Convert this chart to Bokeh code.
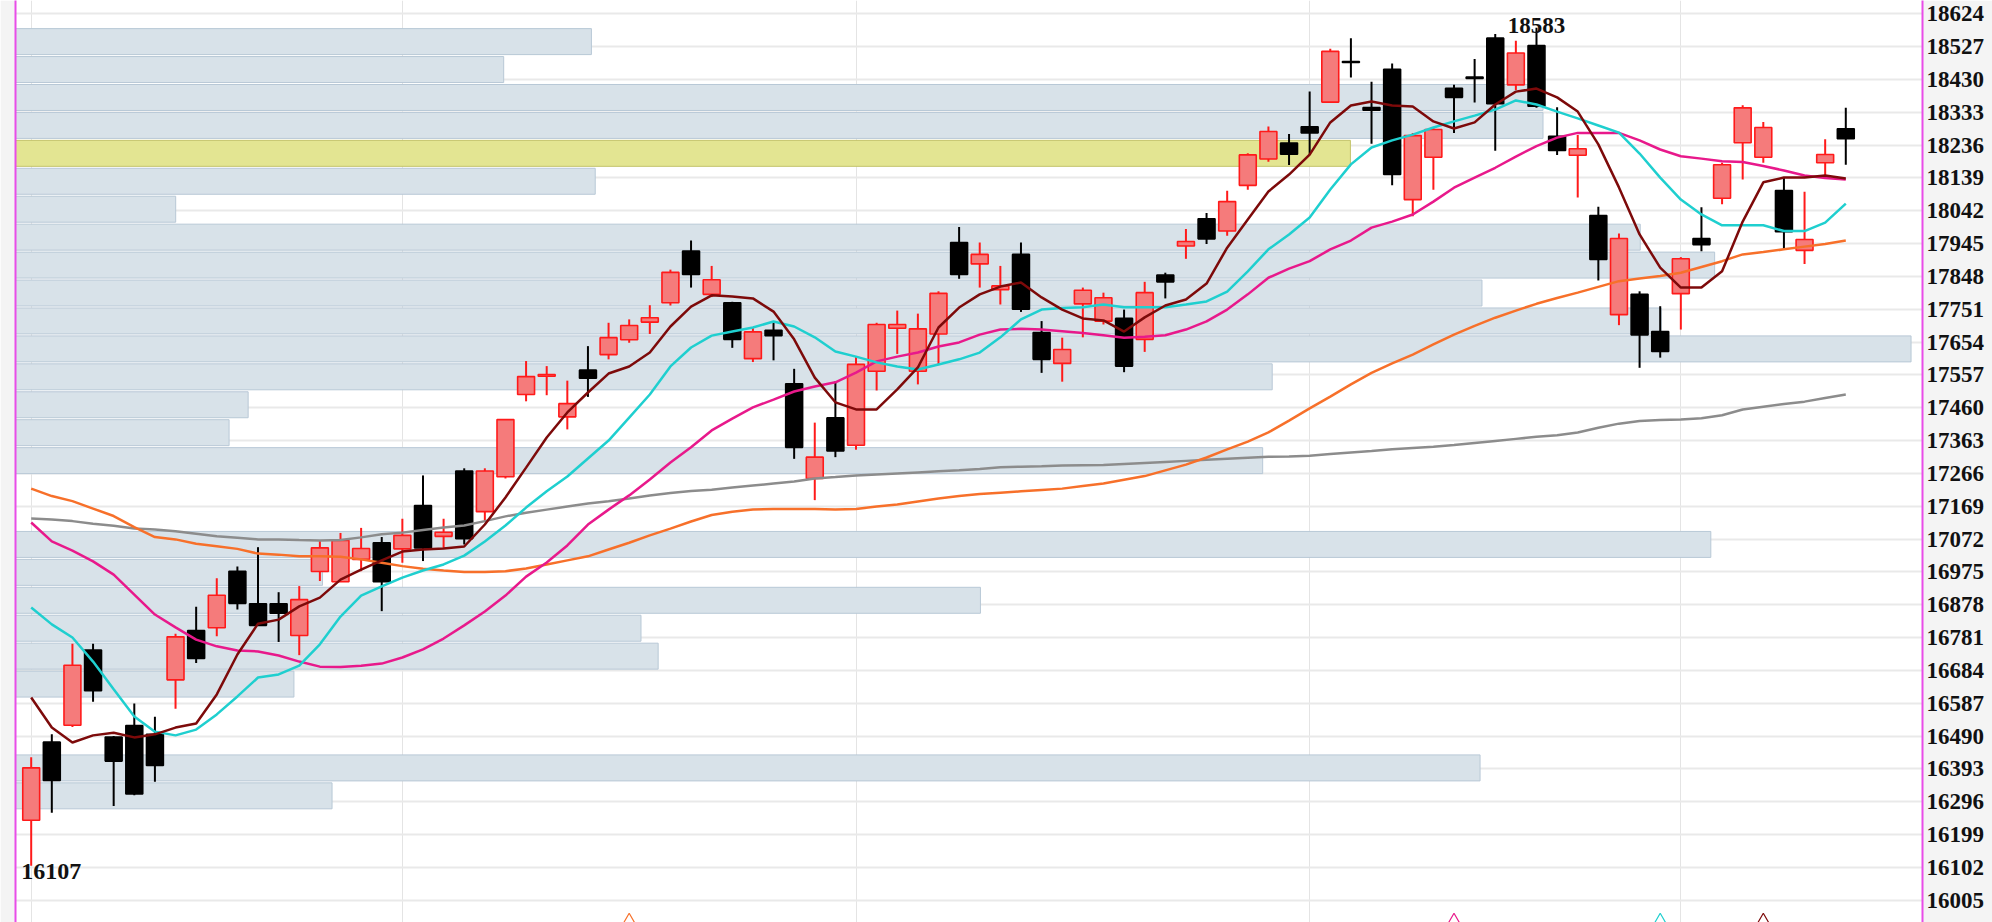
from bokeh.plotting import figure
from bokeh.models import Range1d, LinearAxis, FixedTicker, ColumnDataSource
from bokeh.embed import file_html
from bokeh.resources import INLINE
from bokeh.core.properties import value

# ---------------- data ----------------
opens = [16241,16472,16522,16744,16487,16521,16495,16656,16802,16810,
         16977,16881,16881,16787,16976,16946,17012,17061,17043,17171,
         17080,17273,17153,17256,17499,17553,17433,17571,17617,17661,
         17713,17770,17923,17795,17770,17605,17689,17531,17251,17430,
         17349,17568,17695,17568,17678,17948,17885,17809,17913,17682,
         17591,17767,17716,17724,17662,17852,17938,18018,17982,18117,
         18195,18242,18290,18363,18483,18347,18460,18075,18200,18404,
         18437,18552,18414,18530,18262,18206,18028,17735,17795,17685,
         17797,17960,18079,18243,18200,18102,17925,18184,18284]
highs = [16427,16495,16763,16763,16490,16586,16547,16792,16872,16956,
         16991,17048,16915,16933,17066,17090,17105,17078,17132,17260,
         17132,17281,17281,17425,17598,17583,17540,17642,17711,17721,
         17763,17868,17954,17879,17773,17696,17716,17575,17416,17538,
         17610,17711,17747,17738,17804,17994,17948,17879,17948,17716,
         17667,17815,17800,17750,17832,17859,17988,18035,18101,18212,
         18291,18269,18394,18521,18552,18423,18477,18272,18289,18414,
         18490,18564,18544,18583,18348,18266,18054,17975,17804,17760,
         17905,18052,18184,18354,18304,18139,18098,18253,18346]
lows = [16107,16263,16517,16591,16283,16315,16355,16571,16706,16785,
        16864,16817,16768,16729,16948,16946,16977,16859,17002,17007,
        17046,17056,17125,17251,17479,17497,17396,17492,17603,17652,
        17678,17762,17815,17787,17637,17595,17600,17309,17187,17314,
        17336,17511,17619,17529,17586,17841,17815,17765,17743,17563,
        17537,17668,17706,17565,17625,17783,17900,17944,17968,18104,
        18187,18177,18207,18360,18436,18240,18117,18026,18104,18272,
        18362,18219,18399,18346,18207,18081,17836,17704,17578,17608,
        17691,17922,18061,18134,18184,17930,17885,18139,18178]
closes = [16396,16359,16699,16624,16416,16319,16403,16783,16719,16906,
          16882,16817,16853,16893,17046,17068,17044,16946,17083,17046,
          17092,17073,17273,17425,17552,17558,17472,17547,17667,17703,
          17726,17860,17854,17838,17662,17684,17673,17343,17314,17332,
          17588,17706,17706,17693,17798,17854,17913,17820,17751,17603,
          17632,17807,17785,17583,17800,17832,17951,17959,18069,18207,
          18276,18209,18272,18513,18480,18339,18149,18264,18282,18377,
          18433,18358,18508,18351,18220,18225,17898,17960,17675,17626,
          17900,17942,18178,18346,18288,17980,17957,18208,18255]

ma5 = [16604,16515,16471,16492,16500,16486,16495,16515,16527,16613,
       16731,16822,16834,16873,16899,16952,16982,17009,17035,17041,
       17044,17050,17115,17195,17283,17372,17446,17505,17561,17582,
       17623,17700,17759,17792,17789,17783,17744,17662,17549,17476,
       17455,17455,17514,17579,17697,17756,17795,17818,17830,17786,
       17750,17724,17718,17685,17727,17762,17780,17827,17933,18016,
       18099,18149,18208,18303,18353,18365,18353,18350,18306,18285,
       18303,18356,18394,18403,18377,18335,18238,18111,17972,17874,
       17815,17815,17863,18010,18126,18140,18140,18146,18137]
ma10 = [16870,16820,16781,16710,16628,16548,16503,16492,16509,16554,
        16607,16663,16672,16698,16761,16843,16905,16932,16958,16979,
        16997,17023,17065,17112,17165,17213,17257,17310,17363,17431,
        17499,17582,17638,17673,17685,17697,17715,17700,17668,17626,
        17611,17594,17582,17573,17588,17603,17623,17668,17721,17750,
        17755,17757,17765,17757,17757,17757,17765,17774,17803,17863,
        17928,17972,18022,18105,18179,18229,18250,18267,18288,18306,
        18323,18341,18368,18356,18335,18315,18294,18273,18211,18140,
        18075,18031,17999,17999,17999,17982,17982,18007,18063]
ma20 = [17121,17065,17038,17006,16967,16908,16849,16811,16775,16755,
        16743,16740,16728,16710,16695,16694,16698,16704,16722,16746,
        16778,16817,16858,16905,16961,17003,17053,17115,17159,17201,
        17248,17298,17343,17393,17428,17461,17484,17508,17523,17535,
        17564,17597,17611,17623,17641,17653,17676,17691,17693,17691,
        17686,17681,17674,17667,17670,17674,17691,17715,17750,17795,
        17844,17871,17893,17928,17954,17992,18010,18031,18069,18110,
        18140,18169,18202,18233,18258,18272,18272,18272,18250,18223,
        18203,18196,18188,18186,18174,18161,18146,18139,18134]
ma60 = [17221,17199,17184,17162,17140,17107,17078,17071,17058,17051,
        17043,17029,17026,17021,17021,17020,17012,17002,16992,16984,
        16979,16975,16975,16977,16985,16997,17009,17021,17041,17061,
        17083,17103,17124,17143,17153,17159,17161,17161,17161,17159,
        17161,17168,17174,17183,17192,17199,17205,17209,17213,17217,
        17221,17229,17236,17247,17258,17275,17292,17313,17337,17360,
        17387,17422,17458,17493,17529,17563,17591,17617,17647,17676,
        17702,17726,17747,17767,17784,17800,17817,17834,17842,17849,
        17859,17876,17893,17913,17920,17928,17936,17944,17954]
ma120 = [17133,17130,17125,17117,17111,17103,17100,17095,17088,17080,
         17076,17071,17071,17069,17068,17069,17077,17086,17091,17099,
         17106,17112,17125,17139,17150,17159,17168,17177,17184,17192,
         17201,17208,17214,17218,17224,17230,17236,17242,17251,17255,
         17260,17263,17266,17269,17272,17275,17279,17284,17286,17287,
         17289,17290,17291,17294,17297,17300,17303,17306,17309,17312,
         17315,17316,17318,17323,17328,17332,17337,17341,17345,17350,
         17356,17362,17368,17374,17379,17387,17401,17413,17421,17424,
         17425,17429,17438,17455,17463,17471,17478,17489,17499]

# volume profile: 30 price bins from the highest high down to the lowest low
profile_volume = [30.2, 25.6, 80.1, 80.1, 70.0, 30.4, 8.4, 85.2, 89.1, 76.9,
                  86.3, 99.4, 65.9, 12.2, 11.2, 65.4, 0, 0, 88.9, 16.1,
                  50.6, 32.8, 33.7, 14.6, 0, 0, 76.8, 16.6, 0, 0]
highlight_bin = 4

y_ticks = [16005, 16102, 16199, 16296, 16393, 16490, 16587, 16684, 16781,
           16878, 16975, 17072, 17169, 17266, 17363, 17460, 17557, 17654,
           17751, 17848, 17945, 18042, 18139, 18236, 18333, 18430, 18527, 18624]
month_starts = [0, 18, 40, 62, 80]

signal_idx = [29, 69, 79, 84]
signal_colors = ["#f7702a", "#e8198b", "#1fcfcf", "#7d0a0a"]

# ---------------- figure ----------------
n = len(closes)
idx = list(range(n))
y_lo, y_hi = 15939.1, 18663.2
FONT = "Liberation Serif"

p = figure(width=1992, height=922,
           x_range=Range1d(-0.761, 91.72), y_range=Range1d(y_lo, y_hi),
           x_axis_location=None, y_axis_location="right",
           output_backend="svg", toolbar_location=None,
           min_border_left=15, min_border_right=70,
           min_border_top=0, min_border_bottom=0,
           background_fill_color="white", border_fill_color="#f4f4f4",
           outline_line_color=None)
p.extra_x_ranges = {"vol": Range1d(0, 100)}

# grid
p.ygrid.ticker = FixedTicker(ticks=y_ticks)
p.ygrid.grid_line_color = "#e9e9e9"
p.ygrid.grid_line_width = 2
p.xgrid.ticker = FixedTicker(ticks=month_starts)
p.xgrid.grid_line_color = "#e4e4e4"
p.xgrid.grid_line_width = 1

# right axis
ax = p.yaxis[0]
ax.ticker = FixedTicker(ticks=y_ticks)
ax.axis_line_color = "#e84de8"
ax.axis_line_width = 2
ax.major_tick_line_color = None
ax.minor_tick_line_color = None
ax.major_tick_out = 0
ax.major_tick_in = 0
ax.major_label_standoff = 4
ax.major_label_text_font = FONT
ax.major_label_text_font_style = "bold"
ax.major_label_text_font_size = "23px"
ax.major_label_text_color = "#111111"

left_axis = LinearAxis(ticker=FixedTicker(ticks=[]), axis_line_color="#e84de8",
                       axis_line_width=2, major_tick_line_color=None,
                       minor_tick_line_color=None, major_tick_out=0,
                       major_tick_in=0, major_label_standoff=0,
                       major_label_text_font_size="0px")
p.add_layout(left_axis, "left")

# volume profile
top = max(highs)
bot = min(lows)
nb = len(profile_volume)
bsz = (top - bot) / nb
centers = [top - (k + 0.5) * bsz for k in range(nb)]
norm_k = [k for k in range(nb) if profile_volume[k] > 0 and k != highlight_bin]
p.hbar(y=[centers[k] for k in norm_k], left=0,
       right=[profile_volume[k] for k in norm_k], height=bsz * 0.93,
       x_range_name="vol", fill_color="#d8e2e9", line_color="#b8c8d6",
       line_width=1)
p.hbar(y=[centers[highlight_bin]], left=0, right=[profile_volume[highlight_bin]],
       height=bsz * 0.93, x_range_name="vol", fill_color="#e3e592",
       line_color="#c3c36a", line_width=1)

# candles
up_i = [i for i in idx if closes[i] >= opens[i]]
dn_i = [i for i in idx if closes[i] < opens[i]]
for sel, wick, fill, edge in ((up_i, "#ff1a1a", "#f57b7b", "#ff1a1a"),
                              (dn_i, "#000000", "#000000", "#000000")):
    src = ColumnDataSource(dict(
        x=sel,
        hi=[highs[i] for i in sel], lo=[lows[i] for i in sel],
        top=[max(opens[i], closes[i]) for i in sel],
        bot=[min(opens[i], closes[i]) for i in sel]))
    p.segment(x0="x", y0="hi", x1="x", y1="lo", source=src,
              line_color=wick, line_width=2)
    p.vbar(x="x", top="top", bottom="bot", width=0.82, source=src,
           fill_color=fill, line_color=edge, line_width=1.6)

# moving averages
for ser, col in ((ma120, "#8c8c8c"), (ma60, "#f7702a"), (ma20, "#e8198b"),
                 (ma10, "#1fcfcf"), (ma5, "#7d0a0a")):
    p.line(idx, ser, line_color=col, line_width=2.5)

# high / low labels
hi_i = highs.index(max(highs))
lo_i = lows.index(min(lows))
p.text(x=[hi_i], y=[highs[hi_i]], text=[str(highs[hi_i])],
       text_align="center", text_baseline="alphabetic", y_offset=-2,
       text_font=value(FONT), text_font_style="bold",
       text_font_size="23px", text_color="#111111")
p.text(x=[lo_i], y=[lows[lo_i]], text=[str(lows[lo_i])],
       text_align="left", text_baseline="top", x_offset=-10, y_offset=-2,
       text_font=value(FONT), text_font_style="bold",
       text_font_size="24px", text_color="#111111")

# signal markers at the bottom edge
p.scatter(x=signal_idx, y=[y_lo] * len(signal_idx), marker="triangle",
          size=16, fill_alpha=0, line_color=signal_colors, line_width=1.2)

open("out.html", "w").write(file_html(p, INLINE))
